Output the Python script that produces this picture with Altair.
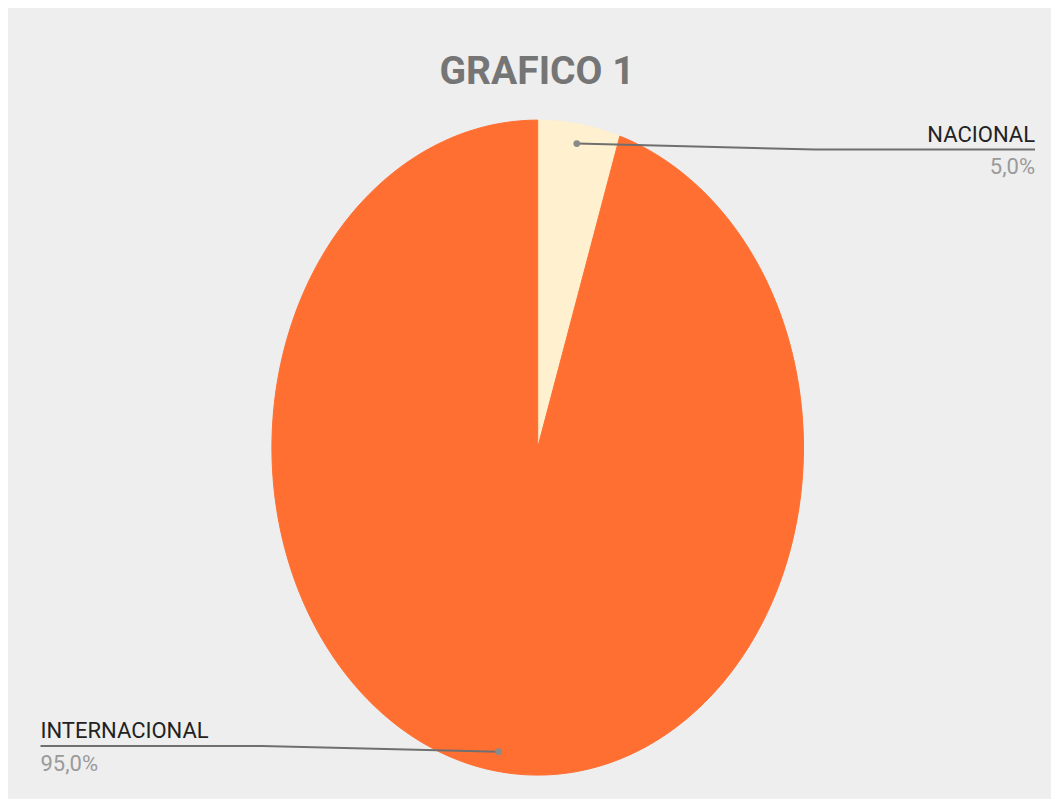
import altair as alt
import pandas as pd

# ---- data ----
CATEGORIES = ["NACIONAL", "INTERNACIONAL"]
VALUES = [5.0, 95.0]
COLORS = ["#fff1cf", "#ff6f32"]
TITLE = "GRAFICO 1"

# ---- layout (pixels, chart coordinates) ----
W, H = 1043, 791
CX, CY, RX, RY = 529.7, 439.6, 265.8, 327.5
DOT_R = 0.94
LABEL_ALIGN = ["right", "left"]
LABEL_X = [1027, 32.5]
LINE_Y = [141.5, 738]
ELBOW_X = [807, 254]
FONT = "Roboto"
LABEL_SIZE = 22
TITLE_SIZE = 39

df = pd.DataFrame({
    "category": CATEGORIES,
    "value": VALUES,
    "order": list(range(len(CATEGORIES))),
    "end_x": LABEL_X,
    "elbow_x": ELBOW_X,
    "line_y": LINE_Y,
})

xs = alt.Scale(domain=[0, W], range=[0, W], nice=False, zero=False)
ys = alt.Scale(domain=[0, H], range=[0, H], nice=False, zero=False)
fill_scale = alt.Scale(domain=CATEGORIES, range=COLORS)

base = alt.Chart(df).transform_joinaggregate(
    total="sum(value)"
).transform_window(
    cum="sum(value)", sort=[alt.SortField("order")], frame=[None, 0]
).transform_calculate(
    a0="2*PI*(datum.cum - datum.value)/datum.total",
    a1="2*PI*datum.cum/datum.total",
    pct="100*datum.value/datum.total",
)

slices = base.transform_calculate(
    step="sequence(-1, 202)"
).transform_flatten(["step"]).transform_calculate(
    th="datum.a0 + (clamp(datum.step, 0, 200)/200)*(datum.a1 - datum.a0)",
    ctr="datum.step < 0 || datum.step > 200",
).transform_calculate(
    px=f"datum.ctr ? {CX} : {CX} + {RX}*sin(datum.th)",
    py=f"datum.ctr ? {CY} : {CY} - {RY}*cos(datum.th)",
).mark_line(strokeWidth=1, interpolate="linear").encode(
    x=alt.X("px:Q", scale=xs, axis=None),
    y=alt.Y("py:Q", scale=ys, axis=None),
    fill=alt.Fill("category:N", scale=fill_scale, legend=None),
    stroke=alt.Stroke("category:N", scale=fill_scale, legend=None),
    detail="category:N",
    order="step:Q",
)

dots = base.transform_calculate(
    mid="(datum.a0 + datum.a1)/2",
).transform_calculate(
    dx=f"{CX} + {RX}*{DOT_R}*sin(datum.mid)",
    dy=f"{CY} - {RY}*{DOT_R}*cos(datum.mid)",
)

leaders = dots.transform_calculate(
    step="sequence(0, 3)"
).transform_flatten(["step"]).transform_calculate(
    lx="datum.step == 0 ? datum.dx : (datum.step == 1 ? datum.elbow_x : datum.end_x)",
    ly="datum.step == 0 ? datum.dy : datum.line_y",
).mark_line(color="#6f6f6f", strokeWidth=2).encode(
    x=alt.X("lx:Q", scale=xs, axis=None),
    y=alt.Y("ly:Q", scale=ys, axis=None),
    detail="category:N",
    order="step:Q",
)

dot_marks = dots.mark_circle(size=45, color="#8a8a8a", opacity=1).encode(
    x=alt.X("dx:Q", scale=xs, axis=None),
    y=alt.Y("dy:Q", scale=ys, axis=None),
)

label_layers = []
for i, cat in enumerate(CATEGORIES):
    sub = base.transform_filter(alt.datum.category == cat).transform_calculate(
        name_y="datum.line_y - 8",
        pct_y="datum.line_y + 24.5",
        pct_txt="replace(format(datum.pct, '.1f'), '.', ',') + '%'",
    )
    label_layers.append(
        sub.mark_text(align=LABEL_ALIGN[i], baseline="alphabetic", font=FONT,
                      fontSize=LABEL_SIZE, color="#222222").encode(
            x=alt.X("end_x:Q", scale=xs, axis=None),
            y=alt.Y("name_y:Q", scale=ys, axis=None),
            text="category:N",
        )
    )
    label_layers.append(
        sub.mark_text(align=LABEL_ALIGN[i], baseline="alphabetic", font=FONT,
                      fontSize=LABEL_SIZE, color="#9a9a9a").encode(
            x=alt.X("end_x:Q", scale=xs, axis=None),
            y=alt.Y("pct_y:Q", scale=ys, axis=None),
            text="pct_txt:N",
        )
    )

title = alt.Chart(pd.DataFrame({"t": [TITLE]})).mark_text(
    align="center", baseline="alphabetic", font=FONT, fontSize=TITLE_SIZE,
    fontWeight="bold", color="#757575",
).encode(
    x=alt.value(529), y=alt.value(76), text="t:N",
)

chart = alt.layer(slices, leaders, dot_marks, *label_layers, title).properties(
    width=W, height=H, autosize=alt.AutoSizeParams(type="none"), padding=0,
    background="#eeeeee",
).configure_view(stroke=None)

chart.save("out.html", embed_options={"renderer": "svg", "actions": False})
